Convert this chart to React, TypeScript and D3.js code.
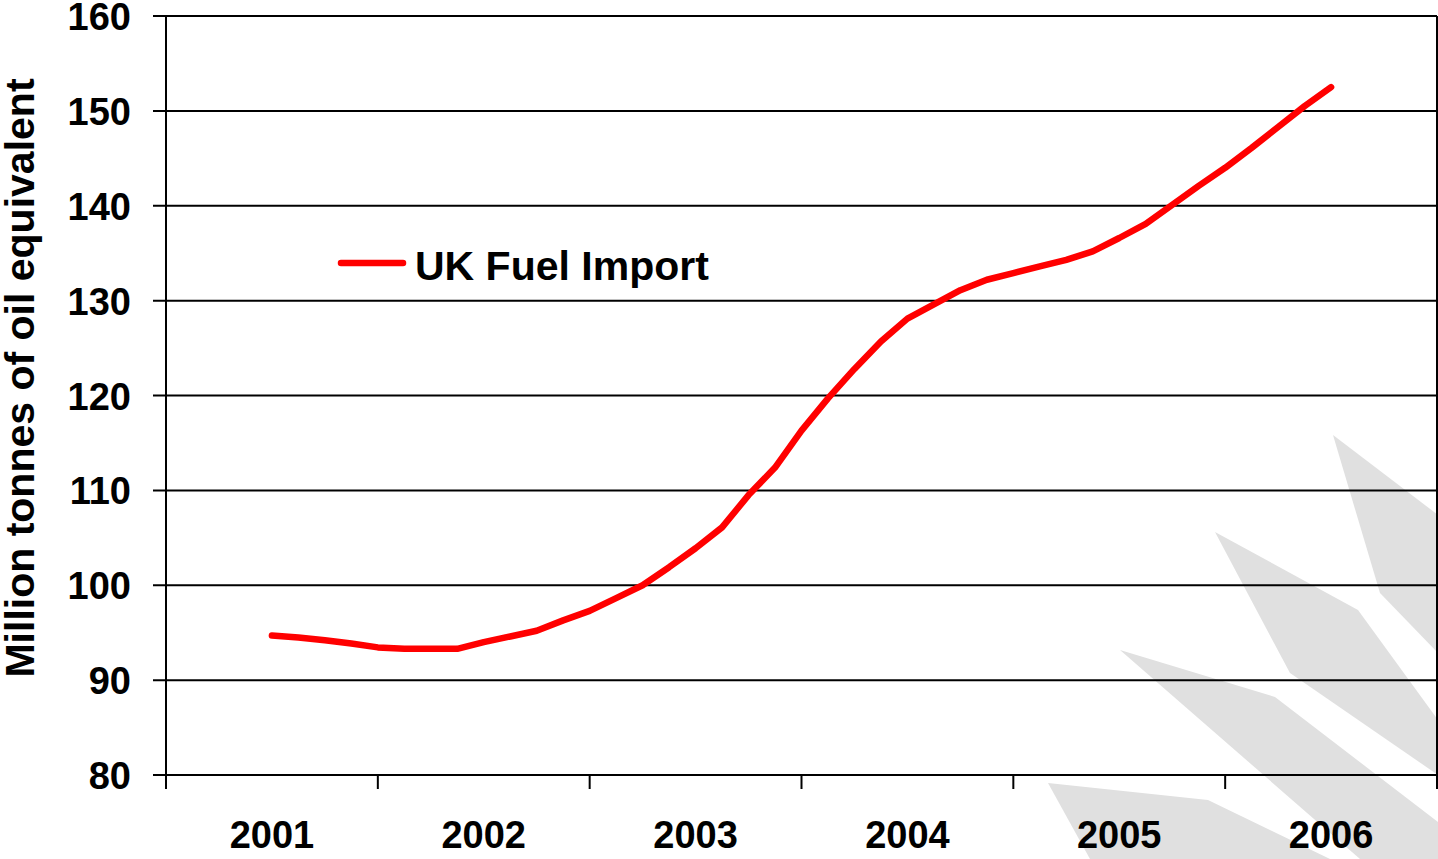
import React from "react";
import * as d3 from "d3";

const years = ["2001", "2002", "2003", "2004", "2005", "2006"];
const yTicks = [80, 90, 100, 110, 120, 130, 140, 150, 160];
// UK fuel import, million tonnes of oil equivalent, eight readings per year (2001 .. 2006)
const fuelImport = [
  94.7, 94.5, 94.2, 93.85, 93.45, 93.3, 93.3, 93.3,
  94.0, 94.6, 95.2, 96.3, 97.3, 98.65, 100.0, 101.9,
  103.9, 106.1, 109.5, 112.4, 116.3, 119.7, 122.8, 125.7,
  128.1, 129.6, 131.1, 132.2, 132.9, 133.6, 134.3, 135.2,
  136.6, 138.1, 140.1, 142.1, 144.0, 146.1, 148.3, 150.5,
  152.5,
];
const seriesName = "UK Fuel Import";
const yTitle = "Million tonnes of oil equivalent";

const W = 1438;
const H = 859;
const left = 166;
const right = 1437;
const top = 16;
const bottom = 775;
const FONT = "'Liberation Sans', Arial, sans-serif";

export default function App() {
  const x = d3.scaleLinear().domain([2000.5, 2006.5]).range([left, right]);
  const y = d3.scaleLinear().domain([80, 160]).range([bottom, top]);
  const pts = fuelImport.map((v, i) => [2001 + i / 8, v] as [number, number]);
  const line = d3
    .line<[number, number]>()
    .x((d) => x(d[0]))
    .y((d) => y(d[1]));
  const boundaries = d3.range(0, years.length + 1).map((i) => 2000.5 + i);

  return (
    <svg
      width={W}
      height={H}
      style={{ position: "absolute", left: 0, top: 0, background: "#fff" }}
      fontFamily={FONT}
    >
      {/* watermark shapes */}
      <g fill="#e0e0e0">
        <polygon points="1333,435 1380,593 1438,653 1438,515" />
        <polygon points="1215,532 1358,610 1438,720 1438,775 1290,673" />
        <polygon points="1120,650 1275,697 1438,822 1438,859 1360,859" />
        <polygon points="1048,783 1208,800 1330,859 1090,859" />
      </g>
      {/* gridlines */}
      {yTicks.map((t) => (
        <line key={t} x1={left - 13} x2={right} y1={y(t)} y2={y(t)} stroke="#000" strokeWidth={2} />
      ))}
      {/* axes */}
      <line x1={left} x2={left} y1={top} y2={bottom} stroke="#000" strokeWidth={2} />
      <line x1={right} x2={right} y1={top} y2={bottom + 14} stroke="#000" strokeWidth={2} />
      {boundaries.map((b) => (
        <line key={b} x1={x(b)} x2={x(b)} y1={bottom} y2={bottom + 14} stroke="#000" strokeWidth={2} />
      ))}
      {/* y tick labels */}
      {yTicks.map((t) => (
        <text
          key={t}
          x={131}
          y={y(t) + 14}
          textAnchor="end"
          fontSize={38}
          fontWeight="bold"
        >
          {t}
        </text>
      ))}
      {/* x labels */}
      {years.map((yr, i) => (
        <text
          key={yr}
          x={x(2001 + i)}
          y={848}
          textAnchor="middle"
          fontSize={38}
          fontWeight="bold"
        >
          {yr}
        </text>
      ))}
      {/* y title */}
      <text
        transform={`translate(34, 378) rotate(-90)`}
        textAnchor="middle"
        fontSize={41}
        fontWeight="bold"
      >
        {yTitle}
      </text>
      {/* line */}
      <path
        d={line(pts) || ""}
        fill="none"
        stroke="#ff0000"
        strokeWidth={6.5}
        strokeLinejoin="round"
        strokeLinecap="round"
      />
      {/* legend */}
      <line x1={341} x2={403} y1={263} y2={263} stroke="#ff0000" strokeWidth={6.5} strokeLinecap="round" />
      <text x={415} y={280} fontSize={41} fontWeight="bold">
        {seriesName}
      </text>
    </svg>
  );
}
